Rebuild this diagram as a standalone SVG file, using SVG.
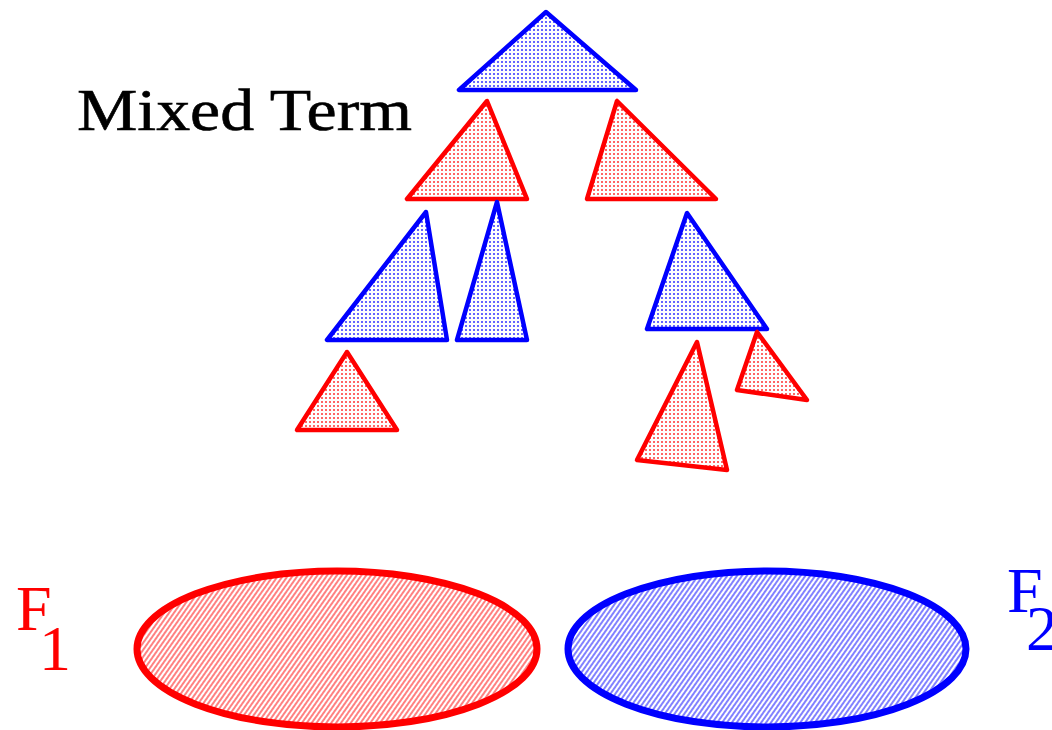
<svg xmlns="http://www.w3.org/2000/svg" width="1052" height="730" viewBox="0 0 1052 730">
<defs>
<pattern id="dotR" width="4" height="4" patternUnits="userSpaceOnUse"><circle cx="2" cy="2" r="1" fill="#ff0000" fill-opacity="0.8"/></pattern>
<pattern id="dotB" width="4" height="4" patternUnits="userSpaceOnUse"><circle cx="2" cy="2" r="1" fill="#0000ff" fill-opacity="0.8"/></pattern>
<pattern id="hatR" width="4" height="4" patternUnits="userSpaceOnUse" patternTransform="rotate(35)"><line x1="2" y1="0" x2="2" y2="4" stroke="#ff0000" stroke-opacity="0.7" stroke-width="1.4"/></pattern>
<pattern id="hatB" width="4" height="4" patternUnits="userSpaceOnUse" patternTransform="rotate(35)"><line x1="2" y1="0" x2="2" y2="4" stroke="#0000ff" stroke-opacity="0.7" stroke-width="1.4"/></pattern>
</defs>
<style>
.tr{fill:url(#dotR);stroke:#ff0000;stroke-width:4.5;stroke-linejoin:round}
.tb{fill:url(#dotB);stroke:#0000ff;stroke-width:4.5;stroke-linejoin:round}
.er{fill:url(#hatR);stroke:#ff0000;stroke-width:7}
.eb{fill:url(#hatB);stroke:#0000ff;stroke-width:7}
.lbl{font-family:"Liberation Serif","DejaVu Serif",serif}
</style>
<rect width="1052" height="730" fill="#ffffff"/>
<g id="label-mixed-term"><text class="lbl" x="77" y="130" font-size="60" textLength="335" lengthAdjust="spacingAndGlyphs" fill="#000000" stroke="#000000" stroke-width="0.6">Mixed Term</text></g>
<g id="t-root"><polygon class="tb" points="546,12 459,90 636,90"/></g>
<g id="t-r1"><polygon class="tr" points="487,101 407,199 527,199"/></g>
<g id="t-r2"><polygon class="tr" points="617,101 587,199 716,199"/></g>
<g id="t-b1"><polygon class="tb" points="426,212 327,340 447,340"/></g>
<g id="t-b2"><polygon class="tb" points="497,202 457,340 527,340"/></g>
<g id="t-b3"><polygon class="tb" points="687,213 647,329 767,329"/></g>
<g id="t-r3"><polygon class="tr" points="347,352 297,430 397,430"/></g>
<g id="t-r4"><polygon class="tr" points="697,342 637,460 727,470"/></g>
<g id="t-r5"><polygon class="tr" points="757,332 737,390 807,400"/></g>
<g id="f1"><ellipse class="er" cx="337" cy="649" rx="200" ry="78"/></g>
<g id="f2"><ellipse class="eb" cx="767" cy="649" rx="199" ry="78"/></g>
<g id="label-f1"><text class="lbl" x="16" y="630" font-size="64" fill="#ff0000">F</text><text class="lbl" x="39" y="670" font-size="64" fill="#ff0000">1</text></g>
<g id="label-f2"><text class="lbl" x="1007" y="612" font-size="64" fill="#0000ff">F</text><text class="lbl" x="1026" y="650" font-size="64" fill="#0000ff">2</text></g>
</svg>
